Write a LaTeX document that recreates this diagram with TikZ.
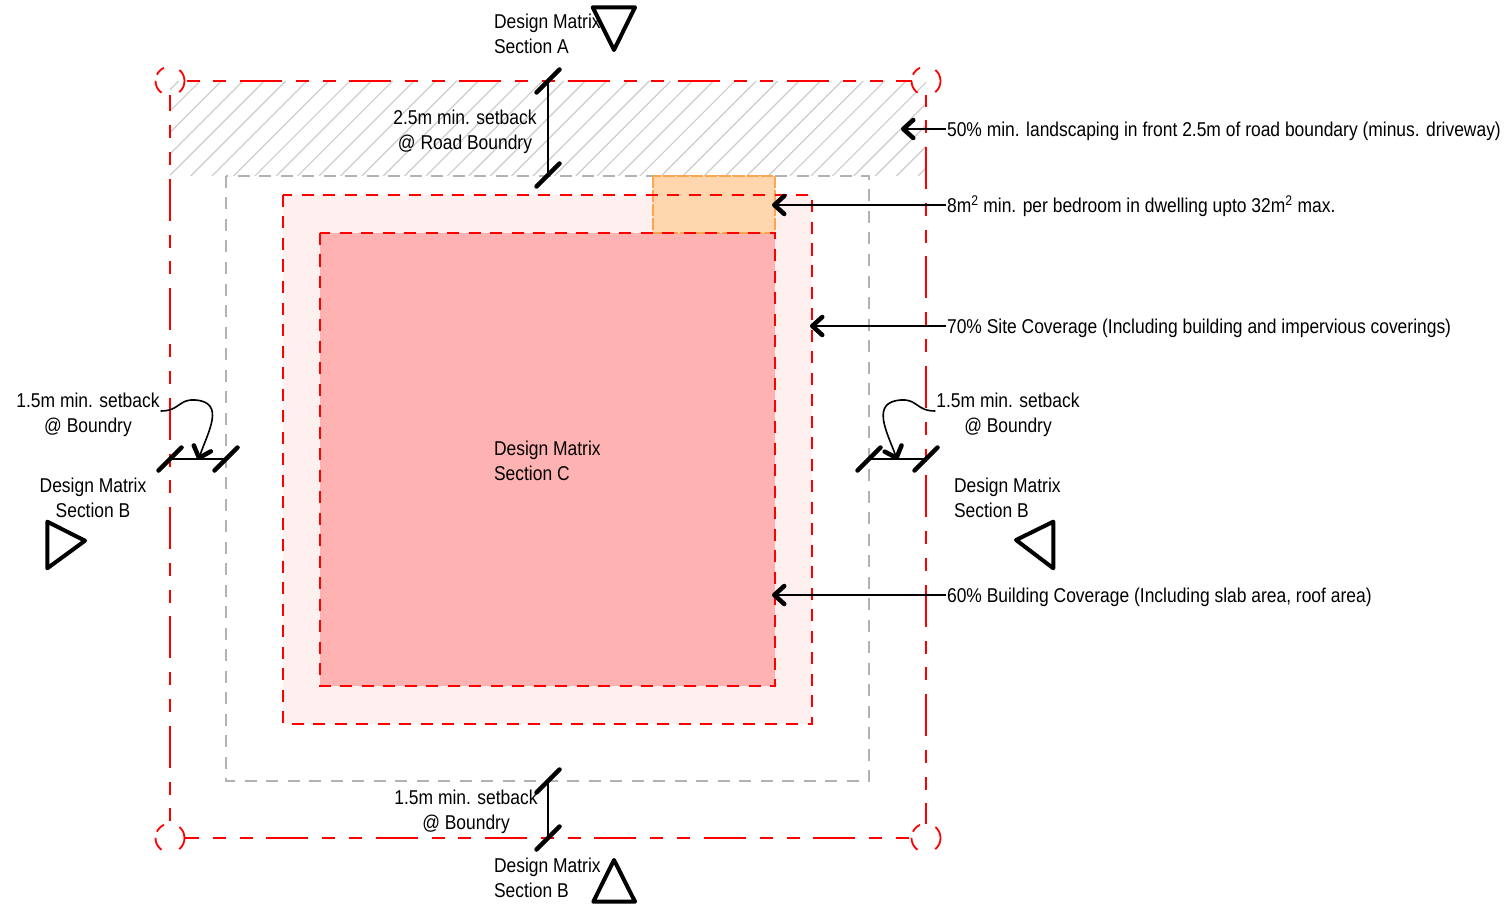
\documentclass[tikz,border=0pt]{standalone}
\usepackage{fontspec}
\setmainfont{Liberation Sans}
\usetikzlibrary{arrows.meta}

\begin{document}
\begin{tikzpicture}[x=1pt,y=-1pt,
  lbl/.style={font=\fontsize{20}{25}\selectfont,inner sep=1pt,xscale=.872,transform shape,align=center},
  lblleft/.style={lbl,align=left,anchor=west},
  redrun/.style={draw=red,line width=1.7pt,dash pattern=on 12pt off 9.5pt},
  greyrun/.style={draw=black!30,line width=1.7pt,dash pattern=on 12pt off 9.5pt},
  orangerun/.style={draw=orange!70,line width=1.2pt,dash pattern=on 12pt off 2pt},
  siteline/.style={draw=red,line width=1.8pt,dash pattern=on 42pt off 14pt on 13pt off 13.7pt on 13pt off 13.7pt},
  cornermark/.style={draw=red,line width=1.8pt,dash pattern=on 12.7pt off 19pt on 14pt off 6.3pt on 10pt off 16.5pt on 12.7pt off 0pt},
  hatchline/.style={draw=black!20,line width=1.2pt},
  ticklbl/.style={line width=4.5pt,line cap=round},
  dimline/.style={line width=1.7pt},
  leadline/.style={line width=1.6pt,-{Straight Barb[length=10pt,width=18pt,line width=4.5pt,round]}},
  sectionmark/.style={line width=4pt,line join=round}]
  \useasboundingbox (0,0) rectangle (1506,909);

  \begin{scope}
    \clip (170,81) rectangle (926,176);
    \foreach \hx in {0,...,40}
      \draw[hatchline] ({169.3+21.39*(\hx-5)},176) -- ++(95,-95);
  \end{scope}

  \draw[greyrun] (226,176) rectangle (869,781);
  \fill[red!6] (283,195) rectangle (812,724);
  \fill[red!30!white] (320,233) rectangle (775,686);
  \fill[orange!32!white] (653,176) rectangle (775,233);
  \draw[orangerun] (653,176) rectangle (775,233);
  \draw[redrun] (283,195) rectangle (812,724);
  \draw[redrun] (320,233) rectangle (775,686);

  \coordinate (tl) at (170,81);
  \coordinate (tr) at (926,81);
  \coordinate (bl) at (170,838);
  \coordinate (br) at (926,838);
  \draw[siteline,dash phase=53.4pt] (184,81) -- (912,81);
  \draw[siteline,dash phase=27.2pt] (184,838) -- (912,838);
  \draw[siteline,dash phase=25.7pt] (170,95) -- (170,824);
  \draw[siteline,dash phase=57.4pt] (926,95) -- (926,824);
  \foreach \cn in {tl,tr,bl,br}
    \draw[cornermark] (\cn) circle (14.5);

  \coordinate (rt) at (548,81);
  \coordinate (rb) at (548,175);
  \coordinate (bt) at (548,781);
  \coordinate (bb) at (548,838);
  \coordinate (lo) at (170,459);
  \coordinate (li) at (226,459);
  \coordinate (ri) at (869,459);
  \coordinate (ro) at (926,459);
  \foreach \tk in {rt,rb,bt,bb,lo,li,ri,ro}
    \draw[ticklbl] (\tk) ++(-11.5,11.5) -- ++(23,-23);
  \draw[dimline] (rt) -- (rb);
  \draw[dimline] (bt) -- (bb);
  \draw[dimline] (lo) -- (li);
  \draw[dimline] (ri) -- (ro);

  \draw[sectionmark] (592.7,7.3) -- (635,7.3) -- (614,50) -- cycle;
  \draw[sectionmark] (614,860) -- (593.3,901.7) -- (635,901.7) -- cycle;
  \draw[sectionmark] (47.3,521.7) -- (47.3,568.3) -- (85,540.7) -- cycle;
  \draw[sectionmark] (1053.3,521.7) -- (1053.3,568.3) -- (1016,540) -- cycle;

  \node[lblleft] (secA) at (493,33.5) {Design Matrix\\Section A};
  \node[lblleft] (secBbot) at (493,877.5) {Design Matrix\\Section B};
  \node[lblleft] (secC) at (493,460.5) {Design Matrix\\Section C};
  \node[lbl] (secBleft) at (93,497.5) {Design Matrix\\Section B};
  \node[lblleft] (secBright) at (953,497.5) {Design Matrix\\Section B};
  \node[lbl] (roadset) at (465,132) {2.5m min. setback\\@ Road Boundry};
  \node[lbl] (botset) at (466,812) {1.5m min. setback\\@ Boundry};
  \node[lbl] (leftset) at (88,415) {1.5m min. setback\\@ Boundry};
  \node[lbl] (rightset) at (1008,415) {1.5m min. setback\\@ Boundry};

  \node[lblleft] (landing) at (946,131) {50\% min. landscaping in front 2.5m of road boundary (minus. driveway)};
  \node[lblleft] (bedroom) at (946,206) {8m\textsuperscript{2} min. per bedroom in dwelling upto 32m\textsuperscript{2} max.};
  \node[lblleft] (sitecov) at (946,328) {70\% Site Coverage (Including building and impervious coverings)};
  \node[lblleft] (buildcov) at (946,597) {60\% Building Coverage (Including slab area, roof area)};

  \coordinate (landtip) at (901,129);
  \coordinate (bedtip) at (772,205);
  \coordinate (sitetip) at (810,326);
  \coordinate (buildtip) at (772,595);
  \draw[leadline] (landing.west |- landtip) -- (landtip);
  \draw[leadline] (bedroom.west |- bedtip) -- (bedtip);
  \draw[leadline] (sitecov.west |- sitetip) -- (sitetip);
  \draw[leadline] (buildcov.west |- buildtip) -- (buildtip);

  \coordinate (lefttip) at (198.3,460);
  \coordinate (righttip) at (897.3,460);
  \draw[leadline] (leftset.east |- 0,411) .. controls (180,411) and (178,399) .. (195,400) .. controls (226,402) and (208,432) .. (lefttip);
  \draw[leadline] (rightset.west |- 0,411) .. controls (916,411) and (918,399) .. (901,400) .. controls (870,402) and (887,432) .. (righttip);
\end{tikzpicture}
\end{document}
